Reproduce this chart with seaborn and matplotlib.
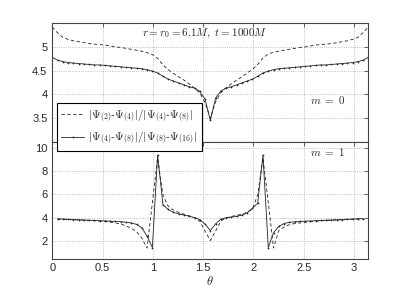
import numpy as np
import pandas as pd
import matplotlib
matplotlib.use('Agg')
import matplotlib.pyplot as plt
import seaborn as sns

# theta sampling points (step pi/60)
theta = [0.000, 0.052, 0.105, 0.157, 0.209, 0.262, 0.314, 0.367, 0.419, 0.471,
         0.524, 0.576, 0.628, 0.681, 0.733, 0.785, 0.838, 0.890, 0.942, 0.995,
         1.047, 1.100, 1.152, 1.204, 1.257, 1.309, 1.361, 1.414, 1.466, 1.518,
         1.571, 1.623, 1.676, 1.728, 1.780, 1.833, 1.885, 1.937, 1.990, 2.042,
         2.094, 2.147, 2.199, 2.251, 2.304, 2.356, 2.409, 2.461, 2.513, 2.566,
         2.618, 2.670, 2.723, 2.775, 2.827, 2.880, 2.932, 2.985, 3.037, 3.089,
         3.142]

# m = 0 panel
m0_dash = [5.42, 5.30, 5.20, 5.16, 5.13, 5.11, 5.09, 5.07, 5.06, 5.05,
           5.04, 5.02, 5.00, 4.99, 4.97, 4.95, 4.93, 4.91, 4.88, 4.84,
           4.76, 4.62, 4.52, 4.44, 4.37, 4.30, 4.22, 4.13, 4.03, 3.82,
           3.50, 3.84, 4.04, 4.14, 4.22, 4.30, 4.37, 4.45, 4.53, 4.63,
           4.77, 4.85, 4.89, 4.91, 4.93, 4.95, 4.97, 4.99, 5.00, 5.02,
           5.04, 5.05, 5.06, 5.07, 5.09, 5.11, 5.13, 5.16, 5.20, 5.30,
           5.42]
m0_solid = [4.78, 4.72, 4.69, 4.67, 4.66, 4.65, 4.64, 4.63, 4.62, 4.62,
            4.61, 4.60, 4.59, 4.58, 4.57, 4.56, 4.55, 4.54, 4.52, 4.49,
            4.45, 4.38, 4.32, 4.28, 4.24, 4.20, 4.16, 4.13, 4.06, 3.90,
            3.45, 3.92, 4.07, 4.13, 4.16, 4.20, 4.24, 4.28, 4.32, 4.38,
            4.45, 4.49, 4.52, 4.54, 4.55, 4.56, 4.57, 4.58, 4.59, 4.60,
            4.61, 4.62, 4.62, 4.63, 4.64, 4.65, 4.66, 4.67, 4.69, 4.72,
            4.78]

# m = 1 panel (no values at the poles)
m1_dash = [3.88, 3.86, 3.84, 3.82, 3.80, 3.78, 3.76, 3.73, 3.70,
           3.67, 3.62, 3.55, 3.45, 3.30, 3.10, 2.80, 2.25, 1.40, 5.30,
           9.10, 5.95, 4.97, 4.65, 4.45, 4.30, 4.15, 3.98, 3.70, 2.85,
           2.05, 2.85, 3.72, 3.98, 4.10, 4.20, 4.30, 4.45, 4.75, 5.95,
           9.10, 5.30, 1.40, 2.90, 3.20, 3.40, 3.50, 3.55, 3.60, 3.65,
           3.70, 3.73, 3.76, 3.78, 3.80, 3.82, 3.84, 3.86, 3.88, 3.89]
m1_solid = [3.90, 3.88, 3.86, 3.84, 3.82, 3.80, 3.78, 3.76, 3.74,
            3.72, 3.70, 3.68, 3.65, 3.61, 3.55, 3.42, 3.13, 2.42, 1.44,
            9.35, 5.10, 4.70, 4.45, 4.33, 4.22, 4.12, 4.00, 3.84, 3.45,
            2.90, 3.47, 3.86, 4.00, 4.05, 4.12, 4.22, 4.42, 4.80, 5.25,
            9.35, 1.44, 2.71, 3.25, 3.50, 3.60, 3.65, 3.68, 3.70, 3.72,
            3.74, 3.76, 3.78, 3.80, 3.82, 3.84, 3.86, 3.88, 3.90, 3.92]

lbl_dash = r'$|\Psi_{(2)}$-$\Psi_{(4)}|/|\Psi_{(4)}$-$\Psi_{(8)}|$'
lbl_solid = r'$|\Psi_{(4)}$-$\Psi_{(8)}|/|\Psi_{(8)}$-$\Psi_{(16)}|$'

sns.set_style('white')
plt.rcParams['font.family'] = ['Liberation Sans', 'DejaVu Sans']
plt.rcParams['mathtext.fontset'] = 'cm'
plt.rcParams['xtick.direction'] = 'in'
plt.rcParams['ytick.direction'] = 'in'

df0 = pd.DataFrame({'theta': theta, 'dash': m0_dash, 'solid': m0_solid})
df1 = pd.DataFrame({'theta': theta[1:-1], 'dash': m1_dash, 'solid': m1_solid})

fig = plt.figure(figsize=(4.07, 3.06), dpi=100)
ax0 = fig.add_axes([0.1285, 0.537, 0.7765, 0.387])
ax1 = fig.add_axes([0.1285, 0.155, 0.7765, 0.382])

for ax, df in [(ax0, df0), (ax1, df1)]:
    sns.lineplot(data=df, x='theta', y='dash', ax=ax, color='#222222', linewidth=0.6,
                 label=lbl_dash, legend=False)
    ax.lines[-1].set_dashes([4, 3])
    sns.lineplot(data=df, x='theta', y='solid', ax=ax, color='#222222', linewidth=0.6,
                 marker='.', markersize=2.5, markeredgewidth=0, label=lbl_solid, legend=False)
    ax.set_xlim(0, np.pi)
    ax.set_xticks([0, 0.5, 1, 1.5, 2, 2.5, 3])
    ax.grid(True, linestyle=':', linewidth=0.6, color='#aaaaaa')
    ax.tick_params(labelsize=8, length=3, width=0.6, top=True, right=True, color='#444444')
    ax.set_ylabel('')
    for s in ax.spines.values():
        s.set_color('#444444')
        s.set_linewidth(0.8)

ax0.set_ylim(3, 5.5)
ax0.set_yticks([3.5, 4, 4.5, 5])
ax0.set_yticklabels(['3.5', '4', '4.5', '5'])
ax0.set_xticklabels([])
ax0.set_xlabel('')
ax0.text(0.483, 0.918, r'$r=r_0=6.1M,\ t=1000M$', transform=ax0.transAxes,
         ha='center', va='center', fontsize=8)
ax0.text(0.872, 0.352, r'$m\ =\ 0$', transform=ax0.transAxes,
         ha='center', va='center', fontsize=8)

ax1.set_ylim(0.5, 10.5)
ax1.set_yticks([2, 4, 6, 8, 10])
ax1.set_xticklabels(['0', '0.5', '1', '1.5', '2', '2.5', '3'])
ax1.set_xlabel(r'$\theta$', fontsize=9, labelpad=1)
ax1.text(0.872, 0.91, r'$m\ =\ 1$', transform=ax1.transAxes,
         ha='center', va='center', fontsize=8)

handles, labels = ax0.get_legend_handles_labels()
leg = fig.legend(handles, labels, loc='upper left', bbox_to_anchor=(0.140, 0.663),
                 borderaxespad=0, fontsize=8, fancybox=False, framealpha=1,
                 edgecolor='black', handlelength=2.0, handletextpad=0.4,
                 labelspacing=0.6, borderpad=0.4)
leg.get_frame().set_linewidth(0.8)
leg.set_zorder(10)

fig.savefig('out.png', dpi=100)
